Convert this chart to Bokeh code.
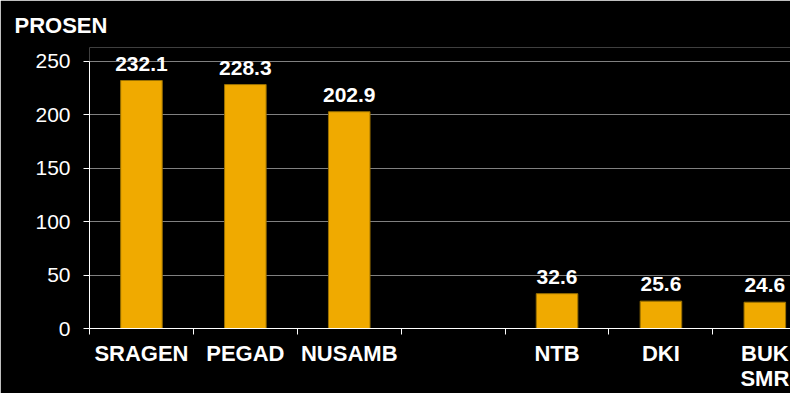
from bokeh.plotting import figure
from bokeh.models import ColumnDataSource, FixedTicker, LabelSet, Range1d, LinearAxis
from bokeh.core.properties import value
from bokeh.embed import file_html
from bokeh.resources import INLINE

categories = ["SRAGEN", "PEGAD", "NUSAMB", "", "NTB", "DKI", "BUK\nSMR"]
values = [232.1, 228.3, 202.9, None, 32.6, 25.6, 24.6]
y_ticks = [0, 50, 100, 150, 200, 250]
y_label = "PROSEN"

FONT = "Liberation Sans"
BAR = "#F0AA00"

xs = [i + 0.5 for i, v in enumerate(values) if v is not None]
vs = [v for v in values if v is not None]
src = ColumnDataSource(dict(x=xs, top=vs, text=["%.1f" % v for v in vs]))

p = figure(width=790, height=393, output_backend="svg", toolbar_location=None,
           x_range=Range1d(0, 6.747), y_range=Range1d(0, 263),
           min_border_left=89, min_border_right=0, min_border_top=47, min_border_bottom=0)
p.background_fill_color = "black"
p.border_fill_color = "black"
p.outline_line_color = None

p.title.text = y_label
p.title.align = "left"
p.title.offset = -75
p.title.standoff = 19
p.title.text_color = "white"
p.title.text_font = FONT
p.title.text_font_style = "bold"
p.title.text_font_size = "22px"

p.vbar(x="x", top="top", width=0.4, source=src, fill_color=BAR, line_color="#9a7000", line_width=1)

labels = LabelSet(x="x", y="top", text="text", source=src, text_align="center",
                  text_baseline="alphabetic", y_offset=10, text_color="white",
                  text_font=value(FONT), text_font_style="bold", text_font_size="21px")
p.add_layout(labels)

# x axis: category labels split into lines, one axis per line
lines = [c.split("\n") for c in categories]
first = [l[0] for l in lines]
second = [l[1] if len(l) > 1 else "" for l in lines]
centers = [i + 0.5 for i in range(len(categories))]

ax1 = p.xaxis[0]
ax1.ticker = FixedTicker(ticks=centers, minor_ticks=list(range(len(categories) + 1)))
ax1.major_label_overrides = {c: t for c, t in zip(centers, first)}
ax1.major_tick_line_color = None
ax1.major_tick_in = 0
ax1.major_tick_out = 6
ax1.minor_tick_in = 0
ax1.minor_tick_out = 6
ax1.minor_tick_line_color = "white"
ax1.axis_line_color = "white"
ax1.major_label_text_color = "white"
ax1.major_label_text_font = FONT
ax1.major_label_text_font_style = "bold"
ax1.major_label_text_font_size = "22px"
ax1.major_label_standoff = 6

ax2 = LinearAxis(ticker=FixedTicker(ticks=centers, minor_ticks=[]))
ax2.major_label_overrides = {c: t for c, t in zip(centers, second)}
ax2.axis_line_color = None
ax2.major_tick_line_color = None
ax2.minor_tick_line_color = None
ax2.major_tick_in = 0
ax2.major_tick_out = 0
ax2.major_label_text_color = "white"
ax2.major_label_text_font = FONT
ax2.major_label_text_font_style = "bold"
ax2.major_label_text_font_size = "22px"
ax2.major_label_standoff = -3
p.add_layout(ax2, "below")
p.xgrid.grid_line_color = None

# y axis
p.yaxis.ticker = FixedTicker(ticks=y_ticks)
p.yaxis.bounds = (0, 250)
p.yaxis.major_tick_in = 0
p.yaxis.major_tick_out = 6
p.yaxis.major_tick_line_color = "white"
p.yaxis.minor_tick_line_color = None
p.yaxis.axis_line_color = "white"
p.yaxis.major_label_text_color = "white"
p.yaxis.major_label_text_font = FONT
p.yaxis.major_label_text_font_size = "21px"
p.yaxis.major_label_standoff = 13
p.ygrid.grid_line_color = "#808080"
p.ygrid.grid_line_width = 1

open("out.html", "w").write(file_html(p, INLINE))
